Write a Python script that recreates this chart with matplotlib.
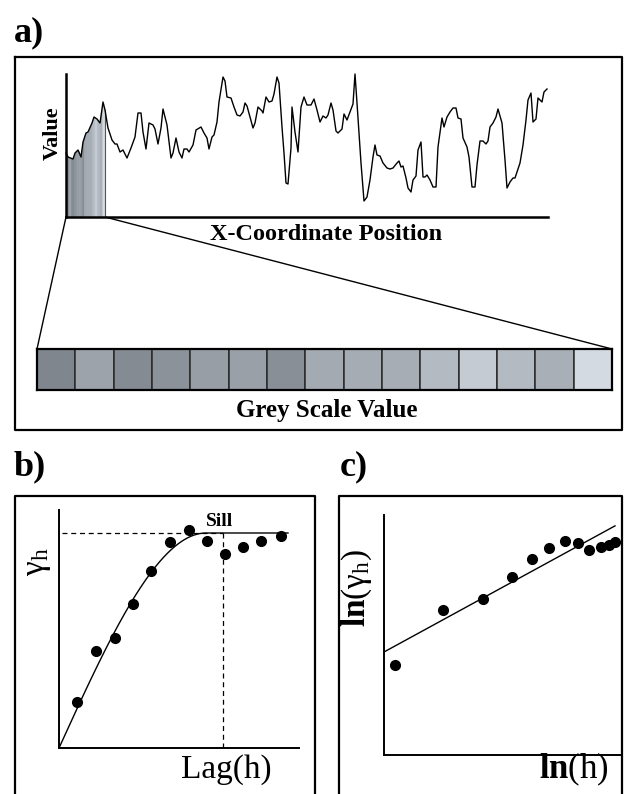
import numpy as np
import matplotlib
matplotlib.use("Agg")
import matplotlib.pyplot as plt

plt.rcParams["font.family"] = ["Liberation Serif", "DejaVu Serif"]
plt.rcParams["mathtext.fontset"] = "custom"
plt.rcParams["mathtext.rm"] = "Liberation Serif"
plt.rcParams["mathtext.it"] = "Liberation Serif:italic"
plt.rcParams["mathtext.bf"] = "Liberation Serif:bold"

# profile along the x coordinate (position, value)
prof_x = [0, 2, 7, 9, 12, 15, 17, 20, 22, 26, 28, 31, 34, 37, 39, 42, 46, 49, 51, 54,
          57, 61, 65, 69, 72, 75, 77, 80, 83, 87, 89, 92, 95, 97, 101, 105, 107, 110, 113, 116,
          118, 121, 123, 127, 130, 135, 138, 141, 143, 146, 148, 151, 153, 157, 159, 161, 165, 168, 171, 174,
          177, 179, 181, 184, 187, 189, 192, 196, 197, 200, 203, 206, 208, 211, 213, 216, 218, 220, 222, 225,
          226, 229, 232, 235, 238, 241, 245, 248, 251, 254, 257, 260, 262, 265, 267, 270, 272, 276, 278, 281,
          284, 287, 289, 291, 295, 298, 301, 304, 307, 309, 311, 314, 317, 321, 324, 327, 331, 333, 335, 337,
          340, 342, 345, 347, 350, 352, 355, 357, 359, 361, 364, 367, 370, 372, 376, 378, 381, 384, 387, 390,
          392, 395, 397, 401, 403, 406, 409, 411, 414, 417, 420, 422, 424, 427, 430, 432, 436, 439, 441, 444,
          447, 449, 451, 454, 457, 460, 462, 465, 467, 470, 472, 476, 478, 481]
prof_y = [64, 60, 58, 64, 67, 60, 75, 84, 85, 94, 100, 98, 94, 115, 107, 89, 77, 73, 73, 65,
          67, 59, 69, 80, 104, 104, 85, 68, 94, 92, 88, 73, 89, 108, 92, 59, 64, 79, 65, 59,
          68, 68, 65, 72, 87, 90, 84, 79, 68, 80, 82, 95, 115, 140, 136, 120, 119, 110, 102, 101,
          105, 114, 111, 100, 89, 94, 110, 106, 104, 120, 115, 116, 123, 140, 134, 90, 64, 34, 33, 69,
          110, 85, 65, 110, 120, 112, 112, 118, 107, 95, 101, 99, 102, 114, 107, 86, 84, 88, 103, 97,
          105, 113, 143, 114, 54, 16, 20, 37, 60, 72, 62, 61, 54, 49, 48, 49, 54, 56, 50, 51,
          39, 29, 25, 37, 41, 67, 75, 40, 40, 42, 37, 30, 30, 70, 99, 90, 100, 105, 109, 109,
          99, 98, 79, 70, 60, 30, 30, 52, 76, 76, 73, 76, 90, 94, 100, 108, 94, 57, 29, 35,
          39, 39, 45, 54, 72, 97, 117, 124, 95, 98, 119, 115, 125, 128]

# grey level of each sampled cell
cell_grey = [136, 165, 141, 148, 160, 162, 145, 172, 174, 175, 188, 205, 188, 177, 220]
sample_end = 39

# semivariogram: lag, semivariance, fitted spherical model
lag = [17.7, 36.7, 56, 74, 91.7, 111, 130, 147.7, 166, 184, 201.7, 221.7]
gamma = [46, 97, 110, 144, 177, 206, 218, 207, 194, 201, 207, 212]
sill = 215
model_range = 147
sill_lag = 164

# log-log plot
ln_h = [11, 59, 99, 128, 148, 165, 181, 194, 205, 217, 225, 231]
ln_g = [90, 145, 156, 178, 196, 207, 214, 212, 205, 208, 210, 213]
fit_slope = 0.546
fit_icpt = 103

W, H = 637, 794
fig = plt.figure(figsize=(W / 100, H / 100), dpi=100)


def px_axes(x0, y0, x1, y1):
    return fig.add_axes([x0 / W, 1 - y1 / H, (x1 - x0) / W, (y1 - y0) / H])


def bare(ax, lw=1.5):
    ax.set_xticks([])
    ax.set_yticks([])
    ax.spines["top"].set_visible(False)
    ax.spines["right"].set_visible(False)
    ax.spines["left"].set_linewidth(lw)
    ax.spines["bottom"].set_linewidth(lw)
    ax.patch.set_alpha(0)


def grey_col(v):
    return ((v - 9) / 255, (v - 2) / 255, min(v + 5, 255) / 255)


# background layer for frames, labels and connectors
bg = fig.add_axes([0, 0, 1, 1])
bg.set_xlim(0, W)
bg.set_ylim(H, 0)
bg.axis("off")

lw_frame = 1.6
bg.plot([15, 622, 622, 15, 15], [57, 57, 430, 430, 57], color="k", lw=lw_frame)
bg.plot([15, 15, 315, 315], [H + 5, 496, 496, H + 5], color="k", lw=lw_frame)
bg.plot([339, 339, 622, 622], [H + 5, 496, 496, H + 5], color="k", lw=lw_frame)

bg.text(14, 33, "a)", fontsize=26, fontweight="bold", va="center", ha="left")
bg.text(14, 467, "b)", fontsize=26, fontweight="bold", va="center", ha="left")
bg.text(340, 467, "c)", fontsize=26, fontweight="bold", va="center", ha="left")

# lines from the sampled stretch down to the grey-scale strip
bg.plot([66, 37], [217, 349], color="k", lw=1.0)
bg.plot([66 + sample_end, 612], [217, 349], color="k", lw=1.0)

bg.text(326, 234, "X-Coordinate Position", fontsize=17.5, fontweight="bold",
        ha="center", va="center")
bg.text(53, 133, "Value", fontsize=16, fontweight="bold", rotation=90,
        ha="center", va="center")
bg.text(327, 410, "Grey Scale Value", fontsize=18, fontweight="bold",
        ha="center", va="center")

# a) profile with the shaded sample
ax_p = px_axes(66, 74, 548, 217)
bare(ax_p, 1.8)
ax_p.set_xlim(0, 482)
ax_p.set_ylim(0, 143)
edges = np.linspace(0, sample_end, len(cell_grey) + 1)
for i, v in enumerate(cell_grey):
    xs = np.linspace(edges[i], edges[i + 1], 6)
    ax_p.fill_between(xs, 0, np.interp(xs, prof_x, prof_y), facecolor=grey_col(v),
                      edgecolor=grey_col(v), lw=0.6)
ax_p.vlines(sample_end, 0, np.interp(sample_end, prof_x, prof_y), color="#555555", lw=0.8)
ax_p.plot(prof_x, prof_y, color="k", lw=1.0, clip_on=False, zorder=3)

# grey-scale strip
ax_g = px_axes(37, 349, 612, 390)
ax_g.bar(np.arange(len(cell_grey)), np.ones(len(cell_grey)), width=1, align="edge",
         color=[grey_col(v) for v in cell_grey], edgecolor="#2a2a2a", linewidth=1.1)
ax_g.set_xlim(0, len(cell_grey))
ax_g.set_ylim(0, 1)
ax_g.set_xticks([])
ax_g.set_yticks([])
for s in ax_g.spines.values():
    s.set_linewidth(1.6)

# b) semivariogram
ax_b = px_axes(59, 510, 299, 748)
bare(ax_b, 1.4)
ax_b.set_xlim(0, 240)
ax_b.set_ylim(0, 238)
h = np.linspace(0, 229, 300)
r = np.minimum(h / model_range, 1)
ax_b.plot(h, sill * (1.5 * r - 0.5 * r ** 3), color="k", lw=1.0)
ax_b.plot(lag, gamma, "o", color="k", ms=7, clip_on=False)
ax_b.plot([3, sill_lag], [sill, sill], color="k", lw=0.9, ls=(0, (4, 3)))
ax_b.plot([sill_lag, sill_lag], [0, sill], color="k", lw=0.9, ls=(0, (4, 3)))
bg.text(220, 521, "Sill", fontsize=14, fontweight="bold", ha="center", va="center")
bg.text(38, 562, r"$\mathrm{\gamma_h}$", fontsize=24, rotation=90, ha="center", va="center")
bg.text(226, 778, "Lag(h)", fontsize=24, ha="center", va="baseline")

# c) log-log plot
ax_c = px_axes(384, 515, 620, 755)
bare(ax_c, 1.4)
ax_c.set_xlim(0, 236)
ax_c.set_ylim(0, 240)
u = np.array([0, 231])
ax_c.plot(u, fit_icpt + fit_slope * u, color="k", lw=1.0)
ax_c.plot(ln_h, ln_g, "o", color="k", ms=7, clip_on=False)
bg.text(357, 588, r"$\mathbf{ln}(\mathrm{\gamma_h})$", fontsize=24, rotation=90,
        ha="center", va="center")
bg.text(574, 778, r"$\mathbf{ln}\mathrm{(h)}$", fontsize=25, ha="center", va="baseline")

fig.savefig("out.png", dpi=100)
